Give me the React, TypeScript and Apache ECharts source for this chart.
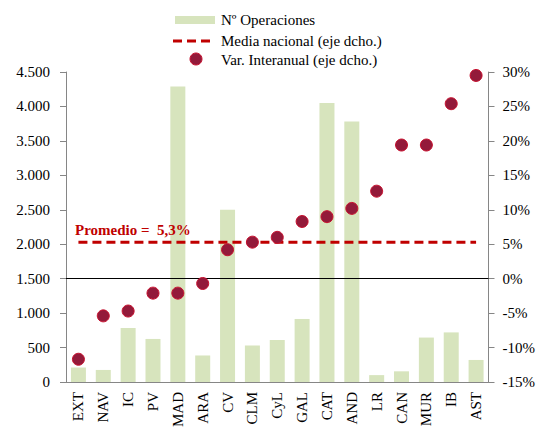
import React, { useEffect, useRef } from "react";
import * as echarts from "echarts";

const categories = ["EXT", "NAV", "IC", "PV", "MAD", "ARA", "CV", "CLM", "CyL", "GAL", "CAT", "AND", "LR", "CAN", "MUR", "IB", "AST"];
const operaciones = [210, 175, 785, 625, 4290, 385, 2500, 530, 610, 915, 4050, 3780, 100, 155, 645, 720, 320];
const varInteranual = [-11.7, -5.4, -4.7, -2.1, -2.1, -0.7, 4.2, 5.3, 6.0, 8.3, 9.0, 10.2, 12.7, 19.4, 19.4, 25.4, 29.5];
const mediaNacional = 5.3;
const mediaSeries = categories.map(() => mediaNacional);

const FONT = "'Liberation Serif', 'Times New Roman', serif";
const AXIS_GRAY = "#868686";

export default function App() {
  const ref = useRef<HTMLDivElement>(null);
  useEffect(() => {
    document.body.style.margin = "0";
    const chart = echarts.init(ref.current!, null, { renderer: "svg" });
    chart.setOption({
      animation: false,
      textStyle: { fontFamily: FONT },
      grid: { left: 66, right: 49, top: 72, bottom: 47 },
      xAxis: {
        type: "category",
        data: categories,
        axisLine: { lineStyle: { color: AXIS_GRAY } },
        axisTick: { lineStyle: { color: AXIS_GRAY }, length: 5 },
        axisLabel: { rotate: 90, color: "#000", fontFamily: FONT, fontSize: 15, margin: 10, interval: 0 },
      },
      yAxis: [
        {
          type: "value",
          min: 0,
          max: 4500,
          interval: 500,
          splitLine: { show: false },
          axisLine: { show: true, lineStyle: { color: AXIS_GRAY } },
          axisTick: { show: true, lineStyle: { color: AXIS_GRAY }, length: 6 },
          axisLabel: {
            color: "#000",
            fontFamily: FONT,
            fontSize: 15,
            margin: 16,
            formatter: (v: number) => v.toLocaleString("de-DE"),
          },
        },
        {
          type: "value",
          min: -15,
          max: 30,
          interval: 5,
          splitLine: { show: false },
          axisLine: { show: true, lineStyle: { color: AXIS_GRAY } },
          axisTick: { show: true, lineStyle: { color: AXIS_GRAY }, length: 6 },
          axisLabel: {
            color: "#000",
            fontFamily: FONT,
            fontSize: 15,
            margin: 14,
            formatter: (v: number) => `${v}%`,
          },
        },
      ],
      series: [
        {
          name: "Nº Operaciones",
          type: "bar",
          yAxisIndex: 0,
          data: operaciones,
          barWidth: 15,
          itemStyle: { color: "#D7E4BD" },
          z: 1,
        },
        {
          name: "Media nacional (eje dcho.)",
          type: "line",
          yAxisIndex: 1,
          data: mediaSeries,
          symbol: "none",
          lineStyle: { color: "#C00000", width: 3, type: [9, 5] },
          z: 3,
        },
        {
          name: "Var. Interanual (eje dcho.)",
          type: "scatter",
          yAxisIndex: 1,
          data: varInteranual,
          symbolSize: 12,
          itemStyle: { color: "#931A3A", borderColor: "#C8102E", borderWidth: 1, opacity: 1 },
          z: 5,
          markLine: {
            silent: true,
            symbol: "none",
            label: { show: false },
            lineStyle: { color: "#000", width: 1, type: "solid" },
            data: [{ yAxis: 0 }],
          },
        },
      ],
      graphic: [
        { type: "rect", shape: { x: 175, y: 16, width: 40, height: 8 }, style: { fill: "#D7E4BD" } },
        { type: "text", x: 221, y: 20, style: { text: "Nº Operaciones", font: `15px ${FONT}`, fill: "#000", verticalAlign: "middle" } },
        { type: "line", shape: { x1: 173, y1: 41, x2: 213, y2: 41 }, style: { stroke: "#C00000", lineWidth: 3, lineDash: [9, 5] } },
        { type: "text", x: 221, y: 41, style: { text: "Media nacional (eje dcho.)", font: `15px ${FONT}`, fill: "#000", verticalAlign: "middle" } },
        { type: "circle", shape: { cx: 196, cy: 59, r: 6 }, style: { fill: "#931A3A", stroke: "#C8102E", lineWidth: 1 } },
        { type: "text", x: 221, y: 60, style: { text: "Var. Interanual (eje dcho.)", font: `15px ${FONT}`, fill: "#000", verticalAlign: "middle" } },
        { type: "text", x: 75, y: 230, z: 10, style: { text: "Promedio =  5,3%", font: `bold 15px ${FONT}`, fill: "#C00000", verticalAlign: "middle" } },
      ],
    });
    return () => chart.dispose();
  }, []);
  return <div ref={ref} style={{ width: 538, height: 430 }} />;
}
